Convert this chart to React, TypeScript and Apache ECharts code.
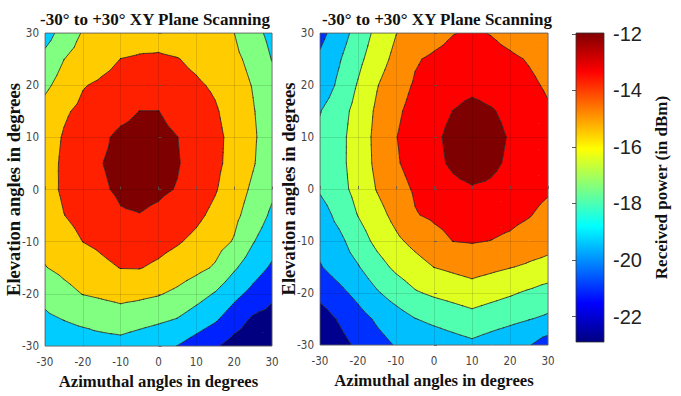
import React, { useEffect, useRef } from "react";
import * as echarts from "echarts";

// Grid of measurement angles (degrees)
const azimuthDeg = [-30, -25, -20, -15, -10, -5, 0, 5, 10, 15, 20, 25, 30];
const elevationDeg = [30, 25, 20, 15, 10, 5, 0, -5, -10, -15, -20, -25, -30];

// Received power (dBm), rows follow elevationDeg (top to bottom), columns follow azimuthDeg
const leftPowerDbm = [
  [-19.28, -17.58, -16.48, -16.2, -15.91, -15.63, -15.46, -15.74, -16.02, -16.31, -16.59, -17.75, -18.95],
  [-17.8, -16.62, -15.97, -15.34, -14.78, -14.6, -14.57, -14.74, -15.15, -15.69, -16.24, -17.07, -18.46],
  [-16.95, -15.93, -14.9, -14.53, -14.22, -13.92, -13.98, -14.28, -14.58, -15.03, -15.85, -16.69, -17.82],
  [-16.02, -15.02, -14.42, -13.94, -13.46, -12.98, -12.98, -13.53, -14.08, -14.63, -15.5, -16.5, -17.5],
  [-15.6, -14.66, -13.97, -13.28, -12.65, -12.45, -12.6, -12.98, -13.69, -14.4, -15.28, -16.38, -17.48],
  [-15.49, -14.52, -13.78, -13.03, -12.6, -12.4, -12.55, -12.89, -13.66, -14.43, -15.37, -16.47, -17.67],
  [-15.42, -14.54, -13.87, -13.2, -12.75, -12.55, -12.72, -13.08, -13.88, -14.67, -15.76, -16.9, -18.05],
  [-15.75, -14.83, -14.3, -13.75, -13.15, -13.05, -13.33, -13.85, -14.45, -15.22, -16.2, -17.39, -18.72],
  [-16.17, -15.47, -14.79, -14.46, -14.05, -13.95, -14.25, -14.65, -15.2, -15.93, -16.73, -18.31, -19.5],
  [-16.67, -16.16, -15.65, -15.15, -14.76, -14.74, -15.09, -15.62, -16.14, -16.79, -18.18, -19.41, -20.45],
  [-17.9, -17.15, -16.55, -16.3, -16.05, -16.21, -16.47, -16.97, -17.73, -18.53, -19.7, -20.71, -21.7],
  [-18.75, -18.38, -18.11, -17.8, -17.5, -17.81, -18.13, -18.51, -19.26, -20.02, -21.19, -22.3, -22.6],
  [-19.5, -19.3, -19.15, -19.08, -19.05, -19.44, -19.83, -20.23, -21.01, -21.8, -22.7, -23.2, -23.6],
];

const rightPowerDbm = [
  [-20.95, -19.76, -18.41, -17.11, -16.04, -15.53, -15.04, -14.55, -14.32, -14.56, -14.98, -15.41, -15.83],
  [-20.25, -19.15, -17.88, -16.68, -15.6, -14.63, -14.27, -14.01, -13.75, -14.01, -14.26, -14.6, -15.0],
  [-20.02, -18.71, -17.39, -16.08, -15.08, -14.36, -14.01, -13.6, -13.4, -13.6, -13.91, -14.24, -14.68],
  [-19.06, -18.1, -17.0, -15.75, -14.73, -14.07, -13.53, -12.98, -12.55, -12.88, -13.36, -13.85, -14.35],
  [-18.75, -17.92, -16.84, -15.61, -14.54, -13.91, -13.3, -12.6, -12.1, -12.5, -13.12, -13.71, -14.3],
  [-18.7, -17.9, -16.86, -15.67, -14.64, -13.99, -13.39, -12.75, -12.3, -12.68, -13.25, -13.8, -14.35],
  [-18.83, -17.99, -17.03, -15.92, -15.02, -14.34, -13.94, -13.375, -13.12, -13.25, -13.6, -13.95, -14.3],
  [-19.69, -18.57, -17.46, -16.53, -15.57, -14.58, -14.27, -14.02, -13.77, -13.95, -14.1, -14.41, -14.95],
  [-20.1, -19.38, -18.21, -17.13, -16.29, -15.59, -14.98, -14.48, -14.4, -14.52, -14.75, -15.18, -15.5],
  [-20.6, -19.86, -19.1, -18.07, -17.2, -16.58, -15.98, -15.7, -15.43, -15.68, -15.94, -16.2, -16.43],
  [-21.59, -20.89, -20.09, -19.15, -18.38, -17.65, -17.27, -16.98, -16.69, -17.01, -17.33, -17.71, -18.16],
  [-22.71, -21.88, -21.06, -20.3, -19.67, -19.04, -18.69, -18.36, -18.03, -18.34, -18.64, -18.95, -19.24],
  [-22.9, -22.49, -21.75, -21.0, -20.41, -20.14, -19.86, -19.59, -19.31, -19.68, -20.05, -20.42, -21.27],
];

// Contour levels (dBm) and fill colours of the bands between them
const leftLevels = [-22, -20.2, -18.4, -16.6, -14.8, -13];
const leftBandColors = ["#000080", "#0022FF", "#00CCFF", "#80FF80", "#FFCC00", "#FF2000", "#7F0000"];
const rightLevels = [-22, -20.5, -19, -17.5, -16, -14.5, -13];
const rightBandColors = ["#00008F", "#0030FF", "#00BFFF", "#50FFB0", "#DFFF20", "#FF8C00", "#FF0000", "#7F0000"];

// Colour bar
const colorbarMin = -22.9;
const colorbarMax = -11.97;
const colorbarTicks = [-22, -20, -18, -16, -14, -12];
const jetOffsets = [0, 0.125, 0.375, 0.625, 0.875, 1];
const jetColors = ["#000080", "#0000FF", "#00FFFF", "#FFFF00", "#FF0000", "#800000"];

const plotTitle = "-30° to +30° XY Plane Scanning";
const xAxisTitle = "Azimuthal angles in degrees";
const yAxisTitle = "Elevation angles in degrees";
const colorbarTitle = "Received power (in dBm)";

type P = { x: number; y: number; v: number };

function clip(poly: P[], t: number, keepAbove: boolean): P[] {
  const out: P[] = [];
  const n = poly.length;
  for (let i = 0; i < n; i++) {
    const a = poly[i];
    const b = poly[(i + 1) % n];
    const ain = keepAbove ? a.v >= t : a.v <= t;
    const bin = keepAbove ? b.v >= t : b.v <= t;
    if (ain) out.push(a);
    if (ain !== bin) {
      const f = (t - a.v) / (b.v - a.v);
      out.push({ x: a.x + f * (b.x - a.x), y: a.y + f * (b.y - a.y), v: t });
    }
  }
  return out;
}

function allTriangles(api: any, grid: number[][]): P[][] {
  const tris: P[][] = [];
  for (let r = 0; r < elevationDeg.length - 1; r++) {
    for (let c = 0; c < azimuthDeg.length - 1; c++) {
      const idx = [
        [c, r],
        [c + 1, r],
        [c + 1, r + 1],
        [c, r + 1],
      ];
      const corners: P[] = idx.map(([cc, rr]) => {
        const p = api.coord([azimuthDeg[cc], elevationDeg[rr]]);
        return { x: p[0], y: p[1], v: grid[rr][cc] };
      });
      const center: P = {
        x: (corners[0].x + corners[1].x + corners[2].x + corners[3].x) / 4,
        y: (corners[0].y + corners[1].y + corners[2].y + corners[3].y) / 4,
        v: (corners[0].v + corners[1].v + corners[2].v + corners[3].v) / 4,
      };
      for (let k = 0; k < 4; k++) tris.push([corners[k], corners[(k + 1) % 4], center]);
    }
  }
  return tris;
}

const f2 = (n: number) => n.toFixed(2);

const makeContour = (grid: number[][], levels: number[], colors: string[]) => (_params: any, api: any) => {
  const tris = allTriangles(api, grid);
  const bandPaths: string[] = colors.map(() => "");
  let linePath = "";
  for (const tri of tris) {
    for (let b = 0; b <= levels.length; b++) {
      let poly: P[] = tri;
      if (b > 0) poly = clip(poly, levels[b - 1], true);
      if (poly.length >= 3 && b < levels.length) poly = clip(poly, levels[b], false);
      if (poly.length >= 3) {
        bandPaths[b] += "M" + poly.map((p) => f2(p.x) + " " + f2(p.y)).join("L") + "Z";
      }
    }
    for (const L of levels) {
      const pts: number[][] = [];
      for (let i = 0; i < 3; i++) {
        const a = tri[i];
        const bb = tri[(i + 1) % 3];
        if ((a.v - L) * (bb.v - L) < 0) {
          const f = (L - a.v) / (bb.v - a.v);
          pts.push([a.x + f * (bb.x - a.x), a.y + f * (bb.y - a.y)]);
        }
      }
      if (pts.length === 2) {
        linePath += "M" + f2(pts[0][0]) + " " + f2(pts[0][1]) + "L" + f2(pts[1][0]) + " " + f2(pts[1][1]);
      }
    }
  }
  const children: any[] = [];
  bandPaths.forEach((d, b) => {
    if (d) children.push({ type: "path", shape: { pathData: d }, style: { fill: colors[b], stroke: null } });
  });
  if (linePath) {
    children.push({
      type: "path",
      shape: { pathData: linePath },
      style: { fill: null, stroke: "#1a1a1a", lineWidth: 0.75, lineCap: "round" },
    });
  }
  return { type: "group", children };
};

const serifBold = "'Liberation Serif', 'Times New Roman', serif";
const narrowFont = "'Liberation Sans Narrow', 'Arial Narrow', 'DejaVu Sans Condensed', 'Liberation Sans', sans-serif";

function plotAxes(gridIndex: number) {
  const tickLabel = { fontFamily: narrowFont, fontSize: 11.5, color: "#444" };
  const nameStyle = { fontFamily: serifBold, fontWeight: "bold" as const, color: "#111" };
  return {
    x: {
      type: "value",
      gridIndex,
      min: -30,
      max: 30,
      interval: 10,
      z: 6,
      axisLine: { show: false },
      axisTick: { show: true, inside: true, length: 3, lineStyle: { color: "#555", width: 0.8 } },
      splitLine: { show: true, lineStyle: { color: "rgba(0,0,0,0.12)", width: 1 } },
      axisLabel: { ...tickLabel, margin: 10 },
      name: xAxisTitle,
      nameLocation: "middle",
      nameGap: 27,
      nameMoveOverlap: false,
      nameTextStyle: { ...nameStyle, fontSize: 16.7 },
    },
    y: {
      type: "value",
      gridIndex,
      min: -30,
      max: 30,
      interval: 10,
      z: 6,
      axisLine: { show: false },
      axisTick: { show: true, inside: true, length: 3, lineStyle: { color: "#555", width: 0.8 } },
      splitLine: { show: true, lineStyle: { color: "rgba(0,0,0,0.12)", width: 1 } },
      axisLabel: { ...tickLabel, margin: 6 },
      name: yAxisTitle,
      nameLocation: "middle",
      nameRotate: 90,
      nameGap: 22,
      nameMoveOverlap: false,
      nameTextStyle: { ...nameStyle, fontSize: 18.5 },
    },
  };
}

export default function App() {
  const ref = useRef<HTMLDivElement>(null);

  useEffect(() => {
    if (!ref.current) return;
    const chart = echarts.init(ref.current, undefined, { renderer: "svg" });
    const a0 = plotAxes(0);
    const a1 = plotAxes(1);
    const stops = jetOffsets.map((o, i) => ({ offset: o, color: jetColors[i] }));

    chart.setOption({
      animation: false,
      backgroundColor: "#ffffff",
      title: [
        {
          text: plotTitle,
          left: 150,
          top: 6,
          textAlign: "center",
          textStyle: { fontFamily: serifBold, fontWeight: "bold", fontSize: 17, color: "#111" },
        },
        {
          text: plotTitle,
          left: 432,
          top: 6,
          textAlign: "center",
          textStyle: { fontFamily: serifBold, fontWeight: "bold", fontSize: 17, color: "#111" },
        },
      ],
      grid: [
        { left: 45, top: 33, width: 227, height: 313, show: true, borderColor: "#666", borderWidth: 0.8, backgroundColor: "transparent", z: 7 },
        { left: 320, top: 33, width: 228, height: 312, show: true, borderColor: "#666", borderWidth: 0.8, backgroundColor: "transparent", z: 7 },
        { left: 576, top: 33, width: 28, height: 309, show: true, borderColor: "#333", borderWidth: 0.8, backgroundColor: "transparent", z: 7 },
      ],
      xAxis: [
        a0.x,
        a1.x,
        { type: "value", gridIndex: 2, min: 0, max: 1, show: false },
      ],
      yAxis: [
        a0.y,
        a1.y,
        {
          type: "value",
          gridIndex: 2,
          position: "right",
          min: colorbarMin,
          max: colorbarMax,
          z: 6,
          splitLine: { show: false },
          axisLine: { show: false },
          axisTick: { show: true, inside: true, length: 4, customValues: colorbarTicks, lineStyle: { color: "#333", width: 0.8 } },
          axisLabel: {
            customValues: colorbarTicks,
            fontFamily: "'Liberation Sans', Arial, sans-serif",
            fontSize: 20,
            color: "#222",
            margin: 9,
          },
          name: colorbarTitle,
          nameLocation: "middle",
          nameRotate: 90,
          nameGap: 49,
          nameMoveOverlap: false,
          nameTextStyle: { fontFamily: serifBold, fontWeight: "bold", fontSize: 17, color: "#111" },
        },
      ],
      series: [
        {
          type: "custom",
          name: "left contour",
          xAxisIndex: 0,
          yAxisIndex: 0,
          coordinateSystem: "cartesian2d",
          silent: true,
          z: 2,
          clip: true,
          encode: { x: 0, y: 1 },
          renderItem: makeContour(leftPowerDbm, leftLevels, leftBandColors),
          data: [[0, 0]],
        },
        {
          type: "custom",
          name: "right contour",
          xAxisIndex: 1,
          yAxisIndex: 1,
          coordinateSystem: "cartesian2d",
          silent: true,
          z: 2,
          clip: true,
          encode: { x: 0, y: 1 },
          renderItem: makeContour(rightPowerDbm, rightLevels, rightBandColors),
          data: [[0, 0]],
        },
        {
          type: "custom",
          name: "colorbar",
          xAxisIndex: 2,
          yAxisIndex: 2,
          coordinateSystem: "cartesian2d",
          silent: true,
          z: 2,
          encode: { x: 0, y: 1 },
          data: [[0.5, (colorbarMin + colorbarMax) / 2]],
          renderItem: (_p: any, api: any) => {
            const p0 = api.coord([0, colorbarMin]);
            const p1 = api.coord([1, colorbarMax]);
            return {
              type: "rect",
              shape: { x: p0[0], y: p1[1], width: p1[0] - p0[0], height: p0[1] - p1[1] },
              style: { fill: new echarts.graphic.LinearGradient(0, 1, 0, 0, stops) },
            };
          },
        },
      ],
    });
    return () => chart.dispose();
  }, []);

  return <div ref={ref} style={{ position: "fixed", left: 0, top: 0, width: 681, height: 396, background: "#fff" }} />;
}
